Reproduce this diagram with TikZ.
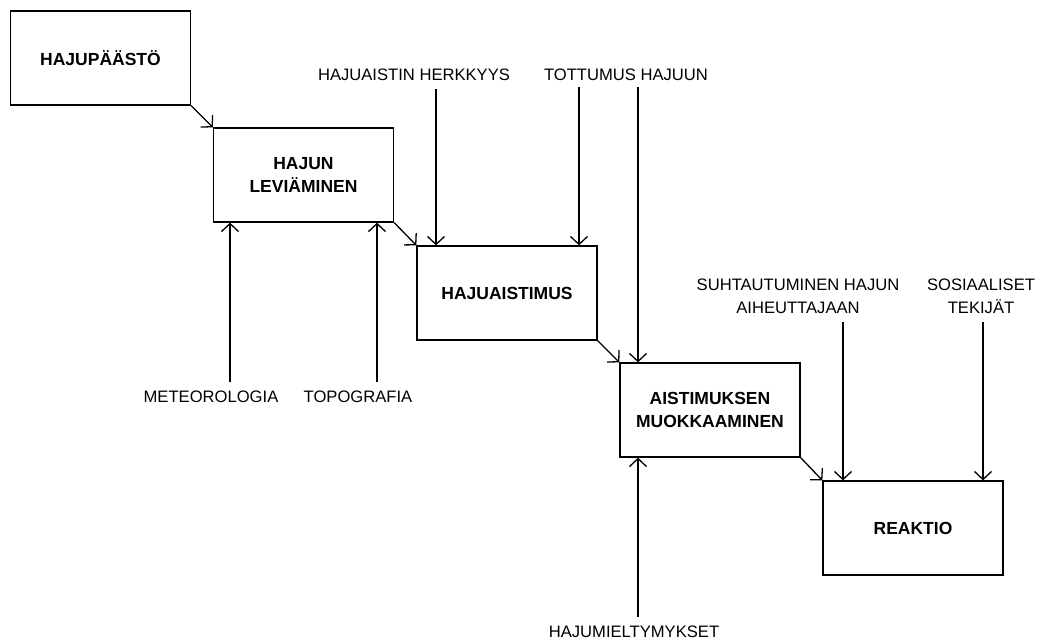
\documentclass[tikz,border=0pt]{standalone}
\usepackage{fontspec}
\setmainfont{Liberation Sans}
\usetikzlibrary{arrows.meta}

\begin{document}
\begin{tikzpicture}[x=1pt, y=-1pt, line width=1.3pt,
  box/.style={draw, minimum width=180pt, minimum height=94pt, inner sep=0pt,
    align=center, font=\fontsize{17.5}{23}\selectfont\bfseries},
  lbl/.style={align=center, inner sep=0pt, font=\fontsize{16.6}{23}\selectfont},
  arr/.style={-{Straight Barb[length=8pt,width=17pt]}}]
  \useasboundingbox (0,0) rectangle (1038,643);

  % laatikot
  \node[box] (paasto) at (100.5, 58) {HAJUPÄÄSTÖ};
  \node[box] (lev)    at (303.5,175) {HAJUN\\LEVIÄMINEN};
  \node[box] (aisti)  at (507,  293) {HAJUAISTIMUS};
  \node[box] (muok)   at (710,  410) {AISTIMUKSEN\\MUOKKAAMINEN};
  \node[box] (reak)   at (913,  528) {REAKTIO};

  \draw[arr] (paasto.south east) -- (lev.north west);
  \draw[arr] (lev.south east) -- (aisti.north west);
  \draw[arr] (aisti.south east) -- (muok.north west);
  \draw[arr] (muok.south east) -- (reak.north west);

  % tekijät
  \node[lbl] (meteo) at (211,397) {METEOROLOGIA};
  \node[lbl] (topo)  at (358,397) {TOPOGRAFIA};
  \node[lbl] (herk)  at (414, 75) {HAJUAISTIN HERKKYYS};
  \node[lbl] (tott)  at (626, 75) {TOTTUMUS HAJUUN};
  \node[lbl] (suht)  at (798,296) {SUHTAUTUMINEN HAJUN\\AIHEUTTAJAAN};
  \node[lbl] (sos)   at (981,296) {SOSIAALISET\\TEKIJÄT};
  \node[lbl] (miel)  at (634,632) {HAJUMIELTYMYKSET};

  \coordinate (m1) at (230,382);
  \coordinate (t1) at (377,382);
  \coordinate (h1) at (436, 89);
  \coordinate (o1) at (579, 87);
  \coordinate (o2) at (638, 87);
  \coordinate (s1) at (843,322);
  \coordinate (s2) at (983,322);
  \coordinate (y1) at (638,617);

  \draw[arr] (m1) -- (m1 |- lev.south);
  \draw[arr] (t1) -- (t1 |- lev.south);
  \draw[arr] (h1) -- (h1 |- aisti.north);
  \draw[arr] (o1) -- (o1 |- aisti.north);
  \draw[arr] (o2) -- (o2 |- muok.north);
  \draw[arr] (y1) -- (y1 |- muok.south);
  \draw[arr] (s1) -- (s1 |- reak.north);
  \draw[arr] (s2) -- (s2 |- reak.north);
\end{tikzpicture}
\end{document}
